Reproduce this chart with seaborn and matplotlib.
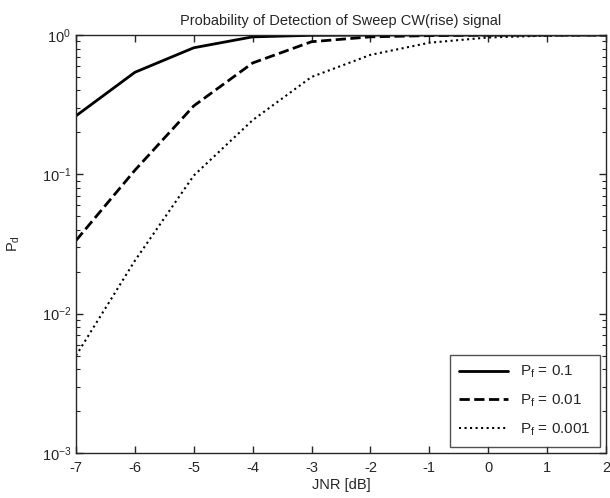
import numpy as np
import pandas as pd
import matplotlib
matplotlib.use("Agg")
import matplotlib.pyplot as plt
import seaborn as sns
from matplotlib.ticker import LogLocator, NullFormatter

jnr = [-7, -6, -5, -4, -3, -2, -1, 0, 1, 2]
pd_01 = [0.263, 0.54, 0.81, 0.97, 0.995, 0.999, 1.0, 1.0, 1.0, 1.0]
pd_001 = [0.0335, 0.107, 0.31, 0.63, 0.895, 0.97, 0.99, 0.998, 1.0, 1.0]
pd_0001 = [0.005, 0.024, 0.098, 0.245, 0.50, 0.72, 0.88, 0.96, 0.99, 0.998]
labels = [r'P$_\mathrm{f}$ = 0.1', r'P$_\mathrm{f}$ = 0.01', r'P$_\mathrm{f}$ = 0.001']

sns.set_style("white")
plt.rcParams['font.family'] = ['Liberation Sans', 'DejaVu Sans']
plt.rcParams['mathtext.fontset'] = 'custom'
plt.rcParams['mathtext.rm'] = 'Liberation Sans'
plt.rcParams['mathtext.it'] = 'Liberation Sans'

df = pd.DataFrame({
    'JNR': jnr * 3,
    'Pd': pd_01 + pd_001 + pd_0001,
    'series': [labels[0]] * len(jnr) + [labels[1]] * len(jnr) + [labels[2]] * len(jnr),
})

fig = plt.figure(figsize=(6.1, 4.98), dpi=100)
ax = fig.add_axes([0.1246, 0.0904, 0.8688, 0.8393])

styles = ['-', '--', ':']
widths = [2.0, 2.0, 1.5]
for lab, ls, lw in zip(labels, styles, widths):
    sub = df[df['series'] == lab]
    sns.lineplot(data=sub, x='JNR', y='Pd', ax=ax, color='black', linestyle=ls,
                 linewidth=lw, label=lab)

ax.set_yscale('log')
ax.set_xlim(-7, 2)
ax.set_ylim(1e-3, 1)
ax.set_xticks(range(-7, 3))
ax.set_xticklabels([str(v) for v in range(-7, 3)])
ax.yaxis.set_major_locator(LogLocator(base=10, numticks=10))
ax.yaxis.set_minor_locator(LogLocator(base=10, subs=np.arange(2, 10), numticks=100))
ax.yaxis.set_minor_formatter(NullFormatter())
ax.tick_params(axis='both', which='both', direction='in', top=True, right=True,
               bottom=True, left=True, labelsize=10.5, color='#262626')
ax.tick_params(which='major', length=5, width=1.0)
ax.tick_params(which='minor', length=3, width=0.8)
ax.tick_params(axis='x', pad=6)
for s in ax.spines.values():
    s.set_color('#262626')
    s.set_linewidth(1.0)

ax.set_title('Probability of Detection of Sweep CW(rise) signal', fontsize=10.5, pad=7)
ax.set_xlabel('JNR [dB]', fontsize=10.5, labelpad=2)
ax.set_ylabel(r'P$_\mathrm{d}$', fontsize=10.5, labelpad=14)

leg = ax.legend(loc='lower right', fontsize=11, frameon=True, fancybox=False,
                edgecolor='#262626', handlelength=3.2, borderaxespad=0.4,
                labelspacing=0.8, borderpad=0.6)
leg.get_frame().set_linewidth(1.0)

fig.savefig('out.png', dpi=100)
